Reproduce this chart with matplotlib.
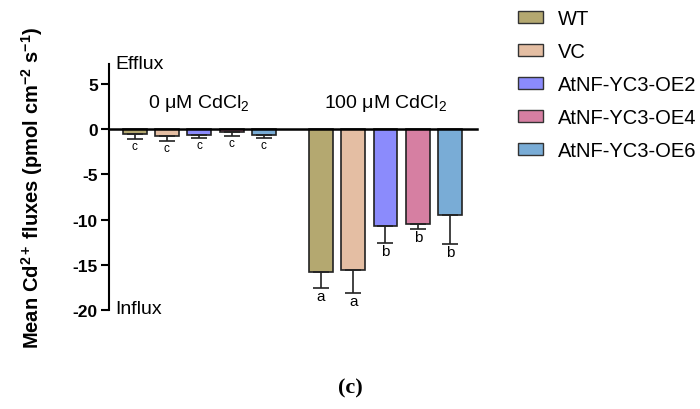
import numpy as np
import matplotlib
matplotlib.use('Agg')
import matplotlib.pyplot as plt
from matplotlib.patches import Patch

plt.rcParams['font.family'] = ['Liberation Sans', 'DejaVu Sans']
plt.rcParams['mathtext.fontset'] = 'custom'
plt.rcParams['mathtext.rm'] = 'Liberation Sans'
plt.rcParams['mathtext.it'] = 'Liberation Sans:italic'
plt.rcParams['mathtext.bf'] = 'Liberation Sans:bold'

genotypes = ['WT', 'VC', 'AtNF-YC3-OE2', 'AtNF-YC3-OE4', 'AtNF-YC3-OE6']
colors = ['#b4a870', '#e4bea3', '#8b8bfc', '#d67fa2', '#79acd6']
treatments = ['0 μM CdCl$_2$', '100 μM CdCl$_2$']

flux_0 = [-0.55, -0.8, -0.6, -0.37, -0.6]
err_0 = [0.55, 0.5, 0.4, 0.38, 0.4]
letters_0 = ['c', 'c', 'c', 'c', 'c']

flux_100 = [-15.85, -15.55, -10.7, -10.45, -9.55]
err_100 = [1.7, 2.55, 1.9, 0.65, 3.2]
letters_100 = ['a', 'a', 'b', 'b', 'b']

fig = plt.figure(figsize=(7, 4.1), dpi=100)
ax = fig.add_axes([0.1557, 0.2415, 0.5257, 0.6])

gap = 5.76  # start of the second group
x0 = np.arange(5)
x1 = np.arange(5) + gap
w = 0.74

for xs, vals, errs, lets, fs in [(x0, flux_0, err_0, letters_0, 8.5),
                                 (x1, flux_100, err_100, letters_100, 11)]:
    ax.bar(xs, vals, width=w, color=colors, edgecolor='#222222', linewidth=1.2, zorder=2)
    ax.errorbar(xs, vals, yerr=[errs, [0] * 5], fmt='none', ecolor='#222222',
                elinewidth=1.2, capsize=6, capthick=1.2, zorder=3)
    for x, v, e, l in zip(xs, vals, errs, lets):
        ax.text(x, v - e - 0.1, l, ha='center', va='top', fontsize=fs)

ax.set_xlim(-0.79, 10.59)
ax.set_ylim(-20, 7.2)
ax.set_yticks([5, 0, -5, -10, -15, -20])
ax.set_yticklabels(['5', '0', '-5', '-10', '-15', '-20'], fontweight='bold', fontsize=12.5)
ax.spines['top'].set_visible(False)
ax.spines['right'].set_visible(False)
ax.spines['bottom'].set_position(('data', 0))
ax.spines['bottom'].set_linewidth(1.8)
ax.spines['left'].set_linewidth(1.5)
ax.set_xticks([])
ax.tick_params(axis='y', length=6, width=1.5, pad=2)

ax.text(x0.mean(), 2.9, treatments[0], ha='center', va='center', fontsize=14)
ax.text(x1.mean(), 2.9, treatments[1], ha='center', va='center', fontsize=14)
ax.text(-0.6, 7.2, 'Efflux', ha='left', va='center', fontsize=14)
ax.text(-0.6, -19.8, 'Influx', ha='left', va='center', fontsize=14)

ax.set_ylabel('Mean Cd$^{\\mathbf{2+}}$ fluxes (pmol cm$^{\\mathbf{-2}}$ s$^{\\mathbf{-1}}$)',
              fontweight='bold', fontsize=14.5)
ax.yaxis.set_label_coords(-0.175, 0.5)

handles = [Patch(facecolor=c, edgecolor='#333333', linewidth=1.0) for c in colors]
fig.legend(handles, genotypes, loc='upper left', bbox_to_anchor=(0.714, 1.02),
           frameon=False, fontsize=14.5, handlelength=1.25, handleheight=0.55,
           labelspacing=0.7, handletextpad=0.75)

fig.text(0.5, 0.053, '(c)', ha='center', va='center', fontsize=16,
         family='Liberation Serif', fontweight='bold')

fig.savefig('out.png', dpi=100)
